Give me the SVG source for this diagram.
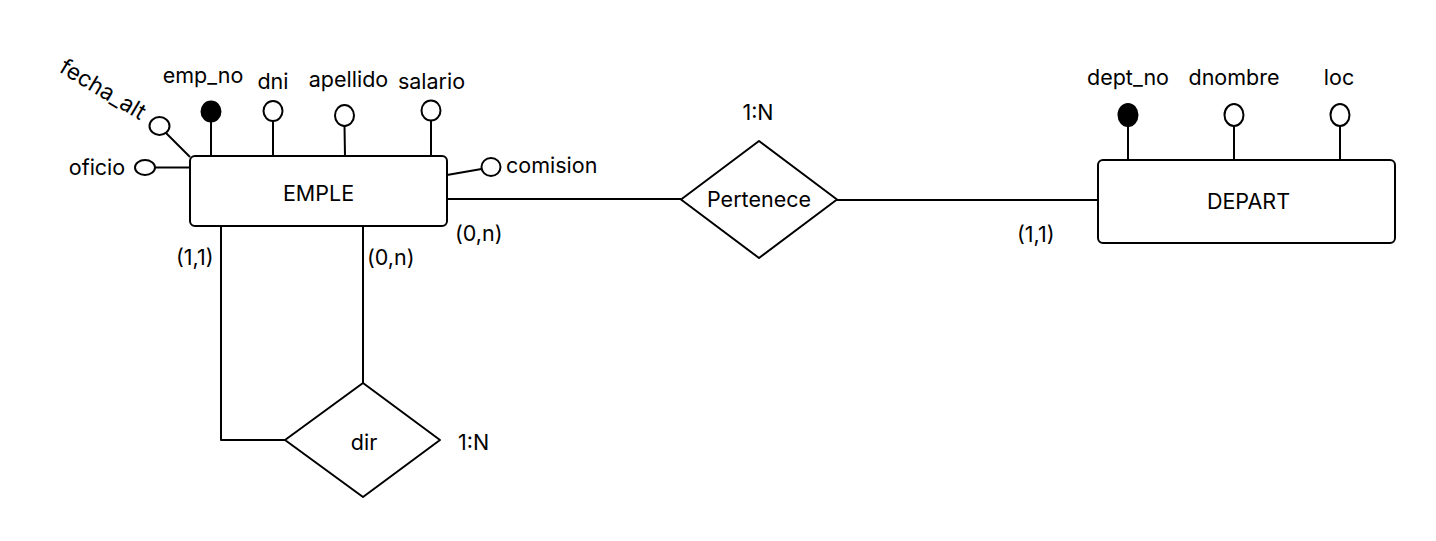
<svg xmlns="http://www.w3.org/2000/svg" width="1436" height="541" viewBox="0 0 1436 541">
<style>
.s{fill:none;stroke:#000;stroke-width:2;stroke-linejoin:round;stroke-linecap:butt}
.box{fill:#fff;stroke:#000;stroke-width:2}
.dia{fill:#fff;stroke:#000;stroke-width:2;stroke-linejoin:round}
.att{fill:#fff;stroke:#000;stroke-width:2}
.key{fill:#000;stroke:#000;stroke-width:2}
text{font-family:Inter,"Liberation Sans",sans-serif;font-size:21.5px;fill:#000}
.m{text-anchor:middle}
</style>
<rect width="1436" height="541" fill="#fff"/>
<g id="connectors">
<line class="s" x1="447" y1="199" x2="681" y2="199"/>
<line class="s" x1="837" y1="200" x2="1098" y2="200"/>
<polyline class="s" points="221,226 221,440 285,440"/>
<line class="s" x1="363" y1="226" x2="363" y2="383"/>
</g>
<g id="attr-links">
<line class="s" x1="211" y1="121" x2="211" y2="156"/>
<line class="s" x1="273" y1="121" x2="273" y2="156"/>
<line class="s" x1="344.5" y1="126" x2="345" y2="156"/>
<line class="s" x1="431" y1="121" x2="431" y2="156"/>
<line class="s" x1="166" y1="133" x2="190" y2="157"/>
<line class="s" x1="155" y1="167.5" x2="190" y2="167.5"/>
<line class="s" x1="447" y1="175" x2="481.5" y2="169"/>
<line class="s" x1="1128" y1="126" x2="1128" y2="160"/>
<line class="s" x1="1234" y1="126" x2="1234" y2="160"/>
<line class="s" x1="1340" y1="126" x2="1340" y2="160"/>
</g>
<g id="EMPLE">
<rect class="box" x="190" y="156" width="257" height="70" rx="5"/>
<text class="m" x="318.5" y="201">EMPLE</text>
</g>
<g id="emp_no">
<ellipse class="key" cx="211" cy="111.5" rx="9.5" ry="10"/>
<text class="m" x="203" y="83">emp_no</text>
</g>
<g id="dni">
<ellipse class="att" cx="273" cy="111" rx="9.5" ry="10"/>
<text class="m" x="273" y="89">dni</text>
</g>
<g id="apellido">
<ellipse class="att" cx="344.5" cy="115.5" rx="9.5" ry="10.5"/>
<text class="m" x="348.5" y="87">apellido</text>
</g>
<g id="salario">
<ellipse class="att" cx="431" cy="110.5" rx="9.5" ry="10"/>
<text class="m" x="431.5" y="88.5">salario</text>
</g>
<g id="fecha_alt">
<ellipse class="att" cx="159.5" cy="126" rx="10" ry="9"/>
<text class="m" x="99" y="96" transform="rotate(31 99 96)" style="font-size:22.5px">fecha_alt</text>
</g>
<g id="oficio">
<ellipse class="att" cx="145" cy="167.5" rx="10" ry="7.5"/>
<text class="m" x="97" y="175">oficio</text>
</g>
<g id="comision">
<ellipse class="att" cx="491" cy="167" rx="9.5" ry="9"/>
<text x="506" y="173">comision</text>
</g>
<g id="Pertenece">
<polygon class="dia" points="759,141 837,199.5 759,258 681,199.5"/>
<text class="m" x="759" y="206.5">Pertenece</text>
<text class="m" x="758" y="120">1:N</text>
</g>
<g id="DEPART">
<rect class="box" x="1098" y="160" width="297" height="83" rx="5"/>
<text class="m" x="1248.5" y="208.5">DEPART</text>
</g>
<g id="dept_no">
<ellipse class="key" cx="1128" cy="115" rx="9.5" ry="11"/>
<text class="m" x="1128" y="85">dept_no</text>
</g>
<g id="dnombre">
<ellipse class="att" cx="1234" cy="115" rx="9.5" ry="11"/>
<text class="m" x="1234" y="85">dnombre</text>
</g>
<g id="loc">
<ellipse class="att" cx="1340" cy="115" rx="9.5" ry="11"/>
<text class="m" x="1339" y="85">loc</text>
</g>
<g id="dir">
<polygon class="dia" points="363,383 440,440 363,497 285,440"/>
<text class="m" x="364" y="450">dir</text>
<text x="458" y="450">1:N</text>
</g>
<g id="cardinalities">
<text x="176" y="265">(1,1)</text>
<text x="367" y="265">(0,n)</text>
<text x="455" y="241">(0,n)</text>
<text x="1017" y="241.5">(1,1)</text>
</g>
</svg>
